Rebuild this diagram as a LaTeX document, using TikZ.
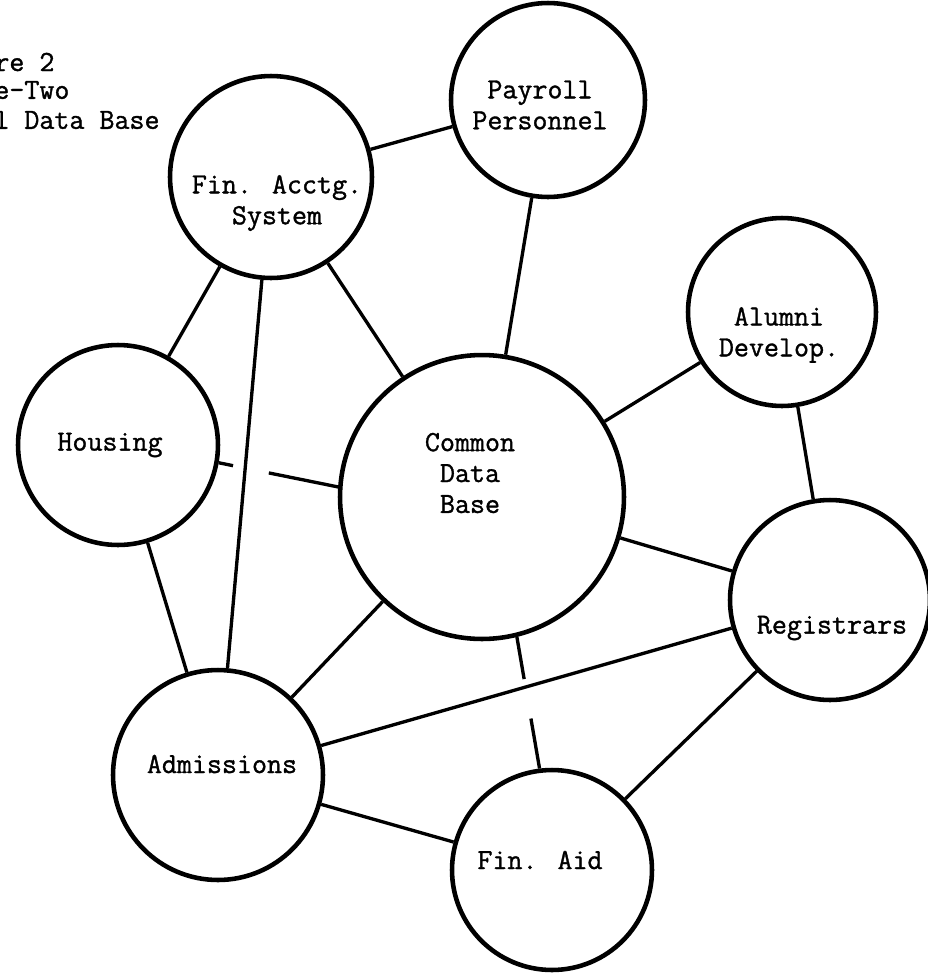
\documentclass[tikz,border=0pt]{standalone}
\usepackage{fontspec}
\newfontfamily\typer{Latin Modern Mono}[FakeBold=1.2]
\usetikzlibrary{calc}

\begin{document}
\begin{tikzpicture}[
  x=0.02cm, y=-0.02cm,
  dbcircle/.style={circle, draw, line width=2.6pt, minimum size=#1, inner sep=0pt},
  dblabel/.style={font=\typer\fontsize{16.6}{17.6}\selectfont, align=center, inner sep=0pt},
  caption/.style={font=\typer\fontsize{16.6}{17.6}\selectfont, anchor=west, inner sep=0pt},
  link/.style={line width=1.9pt},
]
  \useasboundingbox (0,0) rectangle (928,978);
  \clip (0,0) rectangle (928,978);

  % heading, cut at the left margin
  \node[caption] (cap1) at (-6,62) {re 2};
  \node[caption] (cap2) at (-6,90) {e-Two};
  \node[caption] (cap3) at (-6,120) {l Data Base};

  % the systems
  \node[dbcircle=4.04cm] (finacct) at (271,177) {};
  \node[dbcircle=3.88cm] (payroll) at (548,100) {};
  \node[dbcircle=3.76cm] (alumni) at (782,312) {};
  \node[dbcircle=4.0cm]  (housing) at (118,445) {};
  \node[dbcircle=5.68cm] (common) at (482,497) {};
  \node[dbcircle=4.0cm]  (registrars) at (830,600) {};
  \node[dbcircle=4.2cm]  (admissions) at (218,775) {};
  \node[dbcircle=4.0cm]  (finaid) at (552,870) {};

  \node[dblabel] (finacct-t) at (277,203) {Fin. Acctg.\\System};
  \node[dblabel] (payroll-t) at (540,105) {Payroll\\Personnel};
  \node[dblabel] (alumni-t) at (779,335) {Alumni\\Develop.};
  \node[dblabel] (housing-t) at (110,445) {Housing};
  \node[dblabel] (common-t) at (470,473) {Common\\Data\\Base};
  \node[dblabel] (registrars-t) at (832,628) {Registrars};
  \node[dblabel] (admissions-t) at (222,764) {Admissions};
  \node[dblabel] (finaid-t) at (540,860) {Fin. Aid};

  % links
  \draw[link] (finacct) -- (payroll);
  \draw[link] (finacct) -- (housing);
  \draw[link] (finacct) -- (admissions);
  \draw[link] (finacct) -- (common);
  \draw[link] (payroll) -- (common);
  \draw[link] (alumni) -- (common);
  \draw[link] (alumni) -- (registrars);
  \draw[link] (housing) -- (admissions);
  \draw[link] (common) -- (registrars);
  \draw[link] (common) -- (admissions);
  \draw[link] (admissions) -- (registrars);
  \draw[link] (admissions) -- (finaid);
  \draw[link] (finaid) -- (registrars);

  % broken where they pass another line
  \draw[link] (housing.-10) -- ($(housing.-10)!.12!(common.176)$)
    ($(housing.-10)!.42!(common.176)$) -- (common.176);
  \draw[link] (common.-76) -- ($(common.-76)!.32!(finaid.97)$)
    ($(common.-76)!.62!(finaid.97)$) -- (finaid.97);
\end{tikzpicture}
\end{document}
